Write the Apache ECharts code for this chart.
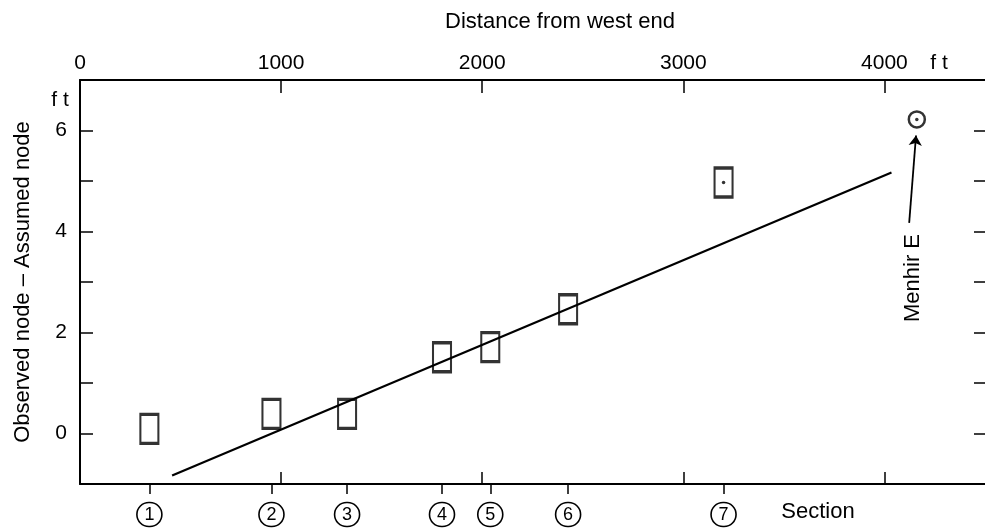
<!DOCTYPE html>
<html>
<head>
<meta charset="utf-8">
<script src="https://cdn.jsdelivr.net/npm/echarts@6/dist/echarts.min.js"></script>
<style>
  html, body { margin: 0; padding: 0; background: #ffffff; }
  #chart { width: 985px; height: 529px; }
</style>
</head>
<body>
<div id="chart"></div>
<script>
// Distance scale (ft) along the top
const distanceTicks = [0, 1000, 2000, 3000, 4000];
const distanceInnerTicks = [1000, 2000, 3000, 4000];

// Survey sections: position along the line (ft) and observed − assumed node (ft)
const sectionLabels = ['1', '2', '3', '4', '5', '6', '7'];
const sectionDistance = [345, 952, 1328, 1800, 2040, 2427, 3200];
const nodeDifference = [0.09, 0.39, 0.39, 1.51, 1.71, 2.46, 4.97];
const dottedSections = [6];

// Fitted straight line
const fitLineX = [458, 4035];
const fitLineY = [-0.83, 5.17];

// Menhir E and its pointer
const menhirE = [4161, 6.22];
const menhirArrowFrom = [4123, 4.17];
const menhirArrowTo = [4157, 5.9];

// Vertical scale (ft)
const heightTicks = [-1, 0, 1, 2, 3, 4, 5, 6, 7];
const heightLabels = [0, 2, 4, 6];

const INK = '#000000';
const FONT = '"Liberation Sans", Arial, sans-serif';

const boxData = sectionDistance.map((d, i) => [d, nodeDifference[i]]);
const dotData = dottedSections.map(i => [sectionDistance[i], nodeDifference[i]]).concat([menhirE]);
const fitData = fitLineX.map((x, i) => [x, fitLineY[i]]);

const gridRect = { left: 80, top: 80, width: 911, height: 404 };

const chart = echarts.init(document.getElementById('chart'), null, { renderer: 'canvas' });

chart.setOption({
  animation: false,
  backgroundColor: '#ffffff',
  textStyle: { fontFamily: FONT, color: INK },
  grid: [
    Object.assign({ containLabel: false }, gridRect),
    Object.assign({ containLabel: false }, gridRect)
  ],
  xAxis: [
    {
      // distance scale on top
      type: 'value', gridIndex: 0, position: 'top',
      min: 0, max: 4500, interval: 1000,
      splitLine: { show: false },
      axisLine: { show: true, onZero: false, lineStyle: { color: INK, width: 2 } },
      axisTick: { show: true, inside: true, length: 13, customValues: distanceInnerTicks,
                  lineStyle: { color: INK, width: 1.5 } },
      axisLabel: { customValues: distanceTicks, fontSize: 21, margin: 6, color: INK, fontFamily: FONT,
                   formatter: v => String(v) }
    },
    {
      // section markers along the bottom
      type: 'value', gridIndex: 0, position: 'bottom',
      min: 0, max: 4500, interval: 1000,
      splitLine: { show: false },
      axisLine: { show: true, onZero: false, lineStyle: { color: INK, width: 2 } },
      axisTick: { show: true, inside: false, length: 10, customValues: sectionDistance,
                  lineStyle: { color: INK, width: 1.5 } },
      axisLabel: {
        customValues: sectionDistance, margin: 19,
        formatter: function (v) {
          const i = sectionDistance.indexOf(v);
          return i < 0 ? '' : '{c|' + sectionLabels[i] + '}';
        },
        rich: {
          c: { width: 23, height: 23, lineHeight: 23, borderRadius: 14, borderColor: INK, borderWidth: 1.6,
               align: 'center', verticalAlign: 'middle', fontSize: 18, color: INK, fontFamily: FONT, padding: [1, 1, 0, 1] }
        }
      }
    },
    {
      // inner distance ticks on the bottom edge
      type: 'value', gridIndex: 1, position: 'bottom',
      min: 0, max: 4500, interval: 1000,
      splitLine: { show: false },
      axisLine: { show: false, onZero: false },
      axisTick: { show: true, inside: true, length: 12, customValues: distanceInnerTicks,
                  lineStyle: { color: INK, width: 1.5 } },
      axisLabel: { show: false }
    }
  ],
  yAxis: [
    {
      type: 'value', gridIndex: 0, position: 'left',
      min: -1, max: 7, interval: 1,
      name: 'Observed node – Assumed node',
      nameLocation: 'middle', nameGap: 46,
      nameTextStyle: { fontSize: 22, color: INK, fontFamily: FONT },
      splitLine: { show: false },
      axisLine: { show: true, onZero: false, lineStyle: { color: INK, width: 2 } },
      axisTick: { show: true, inside: true, length: 13, customValues: heightTicks,
                  lineStyle: { color: INK, width: 1.5 } },
      axisLabel: { customValues: heightLabels, fontSize: 21, margin: 13, color: INK, fontFamily: FONT }
    },
    {
      type: 'value', gridIndex: 0, position: 'right',
      min: -1, max: 7, interval: 1,
      splitLine: { show: false },
      axisLine: { show: false, onZero: false },
      axisTick: { show: true, inside: true, length: 11, customValues: heightTicks,
                  lineStyle: { color: INK, width: 1.5 } },
      axisLabel: { show: false }
    },
    {
      type: 'value', gridIndex: 1, position: 'left', min: -1, max: 7,
      splitLine: { show: false },
      axisLine: { show: false, onZero: false },
      axisTick: { show: false },
      axisLabel: { show: false }
    }
  ],
  series: [
    {
      name: 'fit', type: 'line', xAxisIndex: 0, yAxisIndex: 0,
      data: fitData, showSymbol: false, symbol: 'none', silent: true,
      lineStyle: { color: INK, width: 2.2 }
    },
    {
      name: 'sections', type: 'scatter', xAxisIndex: 0, yAxisIndex: 0,
      data: boxData, symbol: 'rect', symbolSize: [18, 29], silent: true,
      itemStyle: { color: 'rgba(0,0,0,0)', borderColor: INK, borderWidth: 2.6 }
    },
    {
      name: 'Menhir E', type: 'scatter', xAxisIndex: 0, yAxisIndex: 0,
      data: [menhirE], symbol: 'circle', symbolSize: 16, silent: true,
      itemStyle: { color: 'rgba(0,0,0,0)', borderColor: INK, borderWidth: 2.5 },
      markLine: {
        silent: true, animation: false,
        symbol: ['none', 'arrow'], symbolSize: 10,
        label: { show: false },
        lineStyle: { color: INK, width: 1.8, type: 'solid' },
        data: [[{ coord: menhirArrowFrom }, { coord: menhirArrowTo }]]
      }
    },
    {
      name: 'dots', type: 'scatter', xAxisIndex: 0, yAxisIndex: 0,
      data: dotData, symbol: 'circle', symbolSize: 3.5, silent: true,
      itemStyle: { color: INK }
    }
  ],
  graphic: [
    { type: 'text', x: 560, y: 22,
      style: { text: 'Distance from west end', fontSize: 22, fontFamily: FONT, fill: INK,
               align: 'center', verticalAlign: 'middle' } },
    { type: 'text', x: 939, y: 63,
      style: { text: 'f t', fontSize: 21, fontFamily: FONT, fill: INK, align: 'center', verticalAlign: 'middle' } },
    { type: 'text', x: 60, y: 100,
      style: { text: 'f t', fontSize: 21, fontFamily: FONT, fill: INK, align: 'center', verticalAlign: 'middle' } },
    { type: 'text', x: 818, y: 512,
      style: { text: 'Section', fontSize: 22, fontFamily: FONT, fill: INK, align: 'center', verticalAlign: 'middle' } },
    { type: 'text', x: 913, y: 278, rotation: Math.PI / 2,
      style: { text: 'Menhir E', fontSize: 22, fontFamily: FONT, fill: INK, align: 'center', verticalAlign: 'middle' } }
  ]
});
</script>
</body>
</html>
